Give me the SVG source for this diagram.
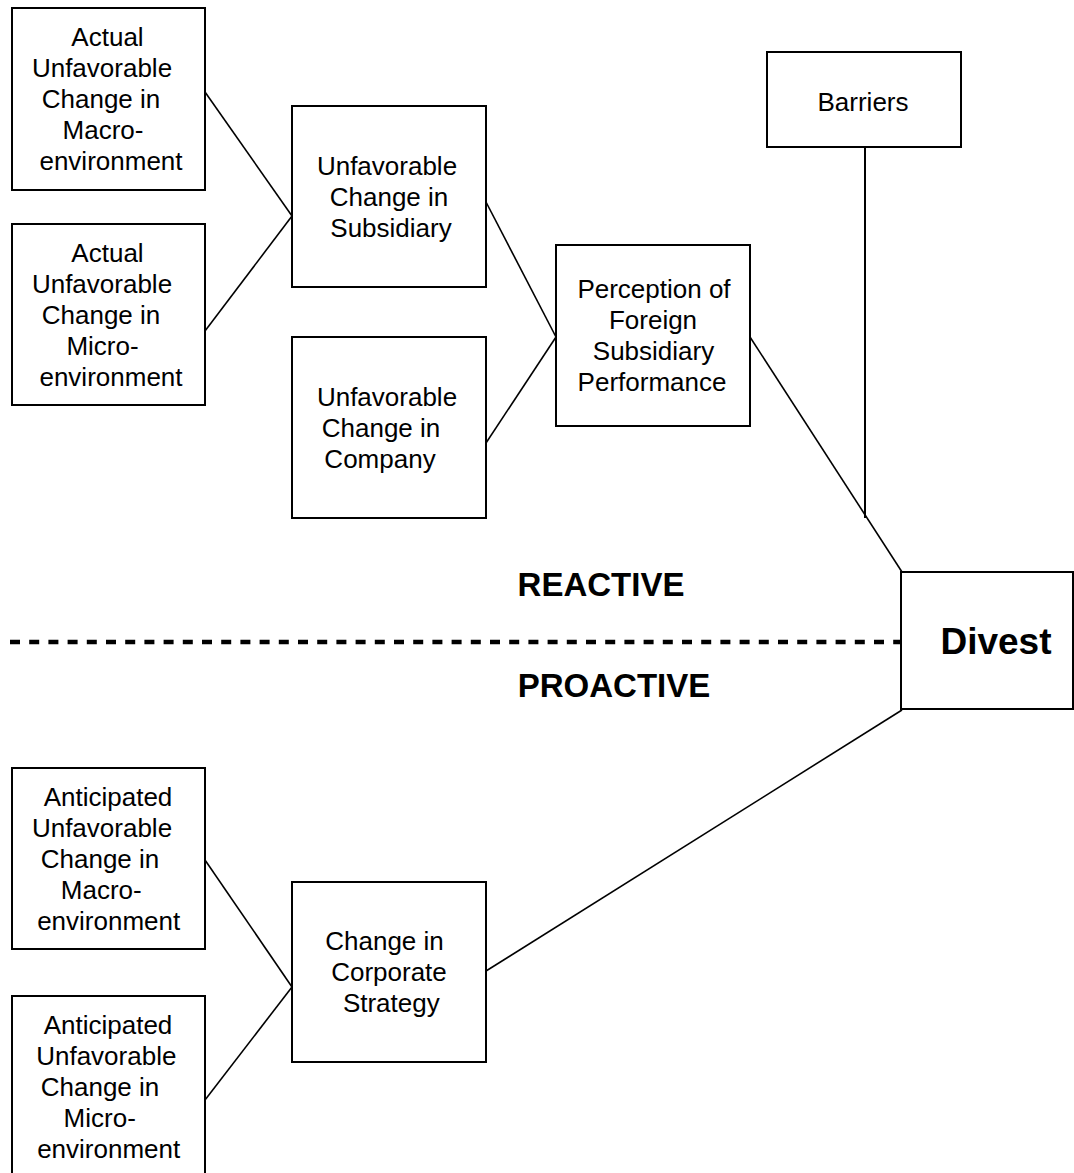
<svg xmlns="http://www.w3.org/2000/svg" width="1074" height="1173" viewBox="0 0 1074 1173">
  <style>
    .box { fill: #ffffff; stroke: #000000; stroke-width: 2; }
    .lbl { font-family: "Liberation Sans", Arial, Helvetica, sans-serif; font-size: 26px; fill: #000000; text-anchor: middle; }
    .bold { font-family: "Liberation Sans", Arial, Helvetica, sans-serif; font-weight: bold; fill: #000000; text-anchor: middle; }
    .link { stroke: #000000; stroke-width: 1.6; fill: none; }
    .divider { stroke: #000000; stroke-width: 4.5; stroke-dasharray: 10 9.2; fill: none; }
  </style>
  <rect width="1074" height="1173" fill="#ffffff"/>

  <!-- connectors -->
  <g id="connectors">
    <line class="link" x1="205" y1="92" x2="292" y2="216"/>
    <line class="link" x1="205" y1="331" x2="292" y2="216"/>
    <line class="link" x1="486" y1="202" x2="556" y2="337"/>
    <line class="link" x1="486" y1="443" x2="556" y2="337"/>
    <line class="link" x1="750" y1="337" x2="902" y2="572"/>
    <line class="link" x1="865" y1="147" x2="865" y2="518" style="stroke-width:2"/>
    <line class="link" x1="205" y1="860" x2="292" y2="987"/>
    <line class="link" x1="205" y1="1100" x2="292" y2="987"/>
    <line class="link" x1="486" y1="971" x2="902" y2="710"/>
  </g>

  <!-- reactive / proactive divider -->
  <g id="divider">
    <line class="divider" x1="10" y1="642" x2="901" y2="642"/>
    <text class="bold" x="601" y="596" font-size="33">REACTIVE</text>
    <text class="bold" x="614" y="697" font-size="33">PROACTIVE</text>
  </g>

  <g id="actual-macro">
    <rect class="box" x="12" y="8" width="193" height="182"/>
    <text class="lbl"><tspan x="107.5" y="46">Actual</tspan><tspan x="102" y="77">Unfavorable</tspan><tspan x="101" y="108">Change in</tspan><tspan x="103" y="139">Macro-</tspan><tspan x="111" y="170">environment</tspan></text>
  </g>

  <g id="actual-micro">
    <rect class="box" x="12" y="224" width="193" height="181"/>
    <text class="lbl"><tspan x="107.5" y="262">Actual</tspan><tspan x="102" y="293">Unfavorable</tspan><tspan x="101" y="324">Change in</tspan><tspan x="102.5" y="355">Micro-</tspan><tspan x="111" y="386">environment</tspan></text>
  </g>

  <g id="subsidiary">
    <rect class="box" x="292" y="106" width="194" height="181"/>
    <text class="lbl"><tspan x="387" y="175">Unfavorable</tspan><tspan x="389" y="206">Change in</tspan><tspan x="391" y="237">Subsidiary</tspan></text>
  </g>

  <g id="company">
    <rect class="box" x="292" y="337" width="194" height="181"/>
    <text class="lbl"><tspan x="387" y="406">Unfavorable</tspan><tspan x="381" y="437">Change in</tspan><tspan x="380" y="468">Company</tspan></text>
  </g>

  <g id="perception">
    <rect class="box" x="556" y="245" width="194" height="181"/>
    <text class="lbl"><tspan x="654" y="298">Perception of</tspan><tspan x="653" y="329">Foreign</tspan><tspan x="653.5" y="360">Subsidiary</tspan><tspan x="652" y="391">Performance</tspan></text>
  </g>

  <g id="barriers">
    <rect class="box" x="767" y="52" width="194" height="95"/>
    <text class="lbl" x="863" y="111" font-size="24">Barriers</text>
  </g>

  <g id="divest">
    <rect class="box" x="901" y="572" width="172" height="137"/>
    <text class="bold" x="996" y="654" font-size="37">Divest</text>
  </g>

  <g id="anticipated-macro">
    <rect class="box" x="12" y="768" width="193" height="181"/>
    <text class="lbl"><tspan x="108" y="806">Anticipated</tspan><tspan x="102" y="837">Unfavorable</tspan><tspan x="100" y="868">Change in</tspan><tspan x="101.3" y="899">Macro-</tspan><tspan x="108.7" y="930">environment</tspan></text>
  </g>

  <g id="anticipated-micro">
    <rect class="box" x="12" y="996" width="193" height="182"/>
    <text class="lbl"><tspan x="108" y="1034">Anticipated</tspan><tspan x="106.3" y="1065">Unfavorable</tspan><tspan x="100" y="1096">Change in</tspan><tspan x="99.7" y="1127">Micro-</tspan><tspan x="108.7" y="1158">environment</tspan></text>
  </g>

  <g id="corporate-strategy">
    <rect class="box" x="292" y="882" width="194" height="180"/>
    <text class="lbl"><tspan x="384.5" y="950">Change in</tspan><tspan x="389" y="981">Corporate</tspan><tspan x="391.3" y="1012">Strategy</tspan></text>
  </g>
</svg>
